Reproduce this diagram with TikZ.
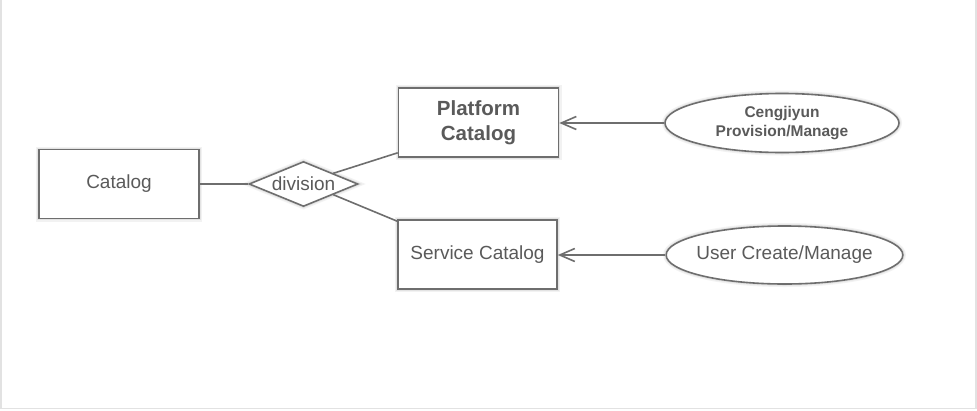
\documentclass[tikz,border=0pt]{standalone}
\usepackage{fontspec}
\setmainfont{Liberation Sans}
\usetikzlibrary{shapes.geometric,arrows.meta,calc}
\definecolor{linec}{HTML}{6E6E6E}
\definecolor{textc}{HTML}{5A5A5A}
\definecolor{framec}{HTML}{E2E2E2}
\tikzset{
  glow/.style={preaction={draw=black!5, line width=6pt},
               preaction={draw=black!11, line width=3.5pt}},
  box/.style={draw=linec, line width=1.6pt, fill=white, glow, rectangle,
              inner sep=0pt, text=textc, align=center,
              font=\fontsize{19}{23}\selectfont},
  dia/.style={draw=linec, line width=1.6pt, fill=white, glow, diamond,
              inner sep=0pt, shape aspect=2.4, text=textc,
              font=\fontsize{19}{23}\selectfont},
  oval/.style={draw=linec, line width=1.6pt, fill=white, glow, ellipse,
               inner sep=0pt, text=textc, align=center},
  conn/.style={draw=linec, line width=1.6pt},
  arr/.style={conn, -{Straight Barb[length=15pt,width=13pt,line width=1.6pt]}}
}
\begin{document}
\begin{tikzpicture}[x=1pt,y=-1pt]
  \useasboundingbox (0,0) rectangle (977,410);
  \fill[white] (0,0) rectangle (977,410);
  \draw[framec, line width=1.5pt] (0.75,0) -- (0.75,408.5) -- (976.2,408.5) -- (976.2,0);

  \node[box, minimum width=160pt, minimum height=69pt] (cat) at (119,184) {Catalog};
  \node[dia, minimum width=109pt, minimum height=45pt] (div) at (303.5,184) {division};
  \node[box, minimum width=160pt, minimum height=69pt,
        font=\bfseries\fontsize{20.5}{25}\selectfont] (plat) at (478.5,122.5) {Platform\\Catalog};
  \node[box, minimum width=159pt, minimum height=69pt] (serv) at (477.5,254.5) {Service Catalog};
  \node[oval, minimum width=234pt, minimum height=59pt,
        font=\bfseries\fontsize{15.5}{19}\selectfont] (ceng) at (782,123) {Cengjiyun\\Provision/Manage};
  \node[oval, inner xsep=-4.5pt, minimum width=235pt, minimum height=58pt,
        font=\fontsize{19}{23}\selectfont] (user) at (784.5,255) {User Create/Manage};

  \draw[conn] (cat.east) -- (div.west);
  \draw[conn] ($(div.north)!0.54!(div.east)$) -- ($(plat.south west)+(0,-5)$);
  \draw[conn] ($(div.south)!0.54!(div.east)$) -- ($(serv.north west)+(0,2)$);
  \draw[arr] (ceng.west) -- (ceng.west -| plat.east);
  \draw[arr] (user.west) -- (user.west -| serv.east);
\end{tikzpicture}
\end{document}
